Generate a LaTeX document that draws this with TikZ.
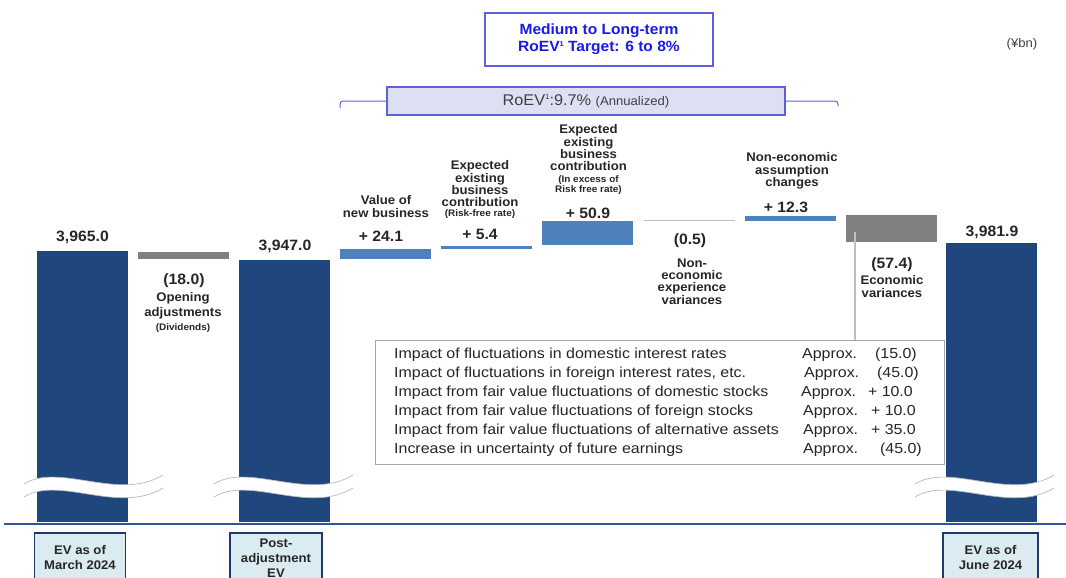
\documentclass[tikz,border=0pt]{standalone}
\usepackage{fontspec}
\setmainfont{Liberation Sans}[FakeStretch=1.05]
\newfontfamily\tblfont{Liberation Sans}[FakeStretch=1.1]
\usepackage{xcolor}
\usetikzlibrary{positioning}

\definecolor{evnavy}{RGB}{31,71,125}
\definecolor{incblue}{RGB}{79,129,189}
\definecolor{decgray}{RGB}{128,128,128}
\definecolor{thingray}{RGB}{191,191,191}
\definecolor{axisblue}{RGB}{47,85,151}
\definecolor{lblfill}{RGB}{218,236,242}
\definecolor{lbldraw}{RGB}{31,56,110}
\definecolor{tgtblue}{RGB}{25,25,235}
\definecolor{tgtdraw}{RGB}{95,95,220}
\definecolor{roevfill}{RGB}{221,224,242}
\definecolor{tblgray}{RGB}{166,166,166}

\begin{document}
\begin{tikzpicture}[
    x=1pt, y=-1pt,
    bar/.style={rectangle, fill=#1, inner sep=0, outer sep=0, minimum width=91, anchor=north west},
    val/.style={font=\bfseries\fontsize{15}{15}\selectfont, anchor=base, text=black!85},
    cat/.style={font=\bfseries\fontsize{12.5}{12.3}\selectfont, align=center, anchor=north, inner sep=0, text=black!85},
    sub/.style={font=\bfseries\fontsize{9.5}{10}\selectfont, align=center, anchor=north, inner sep=0, text=black!85},
    row/.style={font=\tblfont\fontsize{14.5}{14.5}\selectfont, anchor=base west, inner sep=0, text=black!85},
    brkline/.style={draw=gray!55, line width=0.7},
    evlabel/.style={rectangle, draw=lbldraw, fill=lblfill, line width=1.6, minimum width=91, minimum height=50, anchor=north, align=center, font=\bfseries\fontsize{12.5}{15}\selectfont, text=black!85},
    brkt/.style={draw=tgtdraw, line width=1, rounded corners=3}
  ]
  \useasboundingbox (0,0) rectangle (1066,578);

  % Target box
  \node[draw=tgtdraw, line width=1.3, fill=white, minimum width=228, minimum height=53, align=center,
        font=\bfseries\fontsize{14.8}{17}\selectfont, text=tgtblue] (tgt) at (599,39.5)
        {Medium to Long-term\\RoEV\raisebox{5pt}{\fontsize{7}{7}\selectfont 1} Target: 6 to 8\%};
  \node[font=\fontsize{12.5}{12.5}\selectfont, text=black!75] (unit) at (1022,44) {(¥bn)};

  % RoEV box and bracket
  \node[draw=tgtdraw, line width=1.3, fill=roevfill, minimum width=398, minimum height=28, text=black!75] (roev) at (586,101)
        {\fontsize{15.5}{15.5}\selectfont RoEV\raisebox{5.5pt}{\fontsize{7.5}{7.5}\selectfont 1}:9.7\% \fontsize{12.5}{12.5}\selectfont(Annualized)};
  \coordinate (bl) at (340,108);
  \coordinate (br) at (838,106);
  \draw[brkt] (bl) |- (roev.west);
  \draw[brkt] (roev.east) -| (br);

  % Bars
  \node[bar=evnavy, minimum height=271] (ev0) at (37,251) {};
  \node[bar=decgray, minimum height=7] (adj) at (138,252) {};
  \node[bar=evnavy, minimum height=262] (ev1) at (239,260) {};
  \node[bar=incblue, minimum height=10] (vnb) at (340,249) {};
  \node[bar=incblue, minimum height=2.5] (rf) at (441,246) {};
  \node[bar=incblue, minimum height=24] (exc) at (542,221) {};
  \node[bar=thingray, minimum height=1.5] (nex) at (644,219.5) {};
  \node[bar=incblue, minimum height=5] (nas) at (745,216) {};
  \node[bar=decgray, minimum height=27] (eco) at (846,215) {};
  \node[bar=evnavy, minimum height=279] (ev2) at (946,243) {};

  % Values
  \node[val] (v0) at (82.5,241.5) {3,965.0};
  \node[val] (vadj) at (184,284) {(18.0)};
  \node[val] (v1) at (285,250.5) {3,947.0};
  \node[val] (vvnb) at (381,241.5) {+ 24.1};
  \node[val] (vrf) at (480,239.5) {+ 5.4};
  \node[val] (vexc) at (588,218.5) {+ 50.9};
  \node[val] (vnex) at (690,244) {(0.5)};
  \node[val] (vnas) at (786,212.5) {+ 12.3};
  \node[val] (veco) at (892,268) {(57.4)};
  \node[val] (v2) at (992,236.5) {3,981.9};

  % Item names
  \node[cat, font=\bfseries\fontsize{12.5}{14.5}\selectfont] (cadj) at (183,292.5) {Opening\\adjustments};
  \node[sub] (sadj) at (183,323.5) {(Dividends)};
  \node[cat] (cvnb) at (386,195.5) {Value of\\new business};
  \node[cat] (crf) at (480,160.5) {Expected\\existing\\business\\contribution};
  \node[sub] (srf) at (480,209) {(Risk-free rate)};
  \node[cat] (cexc) at (588.5,124.5) {Expected\\existing\\business\\contribution};
  \node[sub] (sexc) at (588.5,175.5) {(In excess of\\Risk free rate)};
  \node[cat] (cnex) at (692,258.5) {Non-\\economic\\experience\\variances};
  \node[cat] (cnas) at (792,152.5) {Non-economic\\assumption\\changes};
  \node[cat] (ceco) at (892,275.5) {Economic\\variances};

  % Breaks in the EV bars
  \fill[white] (24,484) .. controls (59,462) and (119,502) .. (163,475) -- (163,488) .. controls (119,515) and (59,475) .. (24,497) -- cycle;
  \draw[brkline] (24,484) .. controls (59,462) and (119,502) .. (163,475);
  \draw[brkline] (24,497) .. controls (59,475) and (119,515) .. (163,488);
  \fill[white] (214,484) .. controls (249,462) and (309,502) .. (353,475) -- (353,488) .. controls (309,515) and (249,475) .. (214,497) -- cycle;
  \draw[brkline] (214,484) .. controls (249,462) and (309,502) .. (353,475);
  \draw[brkline] (214,497) .. controls (249,475) and (309,515) .. (353,488);
  \fill[white] (915,484) .. controls (950,462) and (1010,502) .. (1054,475) -- (1054,488) .. controls (1010,515) and (950,475) .. (915,497) -- cycle;
  \draw[brkline] (915,484) .. controls (950,462) and (1010,502) .. (1054,475);
  \draw[brkline] (915,497) .. controls (950,475) and (1010,515) .. (1054,488);

  % Breakdown of economic variances
  \node[draw=tblgray, line width=0.8, fill=white, minimum width=569, minimum height=124, anchor=north west] (tbl) at (375,340) {};
  \coordinate (tap) at (855,232);
  \draw[thingray, line width=1.3] (tap) -- (tap |- tbl.north);
  \node[row] (r1) at (394,358) {Impact of fluctuations in domestic interest rates};
  \node[row] (a1) at (802,358) {Approx.};
  \node[row, anchor=base east] (n1) at (917,358) {(15.0)};
  \node[row] (r2) at (394,377) {Impact of fluctuations in foreign interest rates, etc.};
  \node[row] (a2) at (804,377) {Approx.};
  \node[row, anchor=base east] (n2) at (919,377) {(45.0)};
  \node[row] (r3) at (394,396) {Impact from fair value fluctuations of domestic stocks};
  \node[row] (a3) at (801,396) {Approx.};
  \node[row, anchor=base east] (n3) at (913,396) {+ 10.0};
  \node[row] (r4) at (394,415) {Impact from fair value fluctuations of foreign stocks};
  \node[row] (a4) at (803,415) {Approx.};
  \node[row, anchor=base east] (n4) at (916,415) {+ 10.0};
  \node[row] (r5) at (394,434) {Impact from fair value fluctuations of alternative assets};
  \node[row] (a5) at (803,434) {Approx.};
  \node[row, anchor=base east] (n5) at (916,434) {+ 35.0};
  \node[row] (r6) at (394,453) {Increase in uncertainty of future earnings};
  \node[row] (a6) at (803,453) {Approx.};
  \node[row, anchor=base east] (n6) at (922,453) {(45.0)};

  % Axis and period labels
  \draw[axisblue, line width=2] (4,523.5) -- (1066,523.5);
  \node[evlabel] (l0) at (80,532) {EV as of\\March 2024};
  \node[evlabel, minimum width=92] (l1) at (276,532) {Post-\\adjustment\\EV};
  \node[evlabel, minimum width=95] (l2) at (990.5,532) {EV as of\\June 2024};
\end{tikzpicture}
\end{document}
